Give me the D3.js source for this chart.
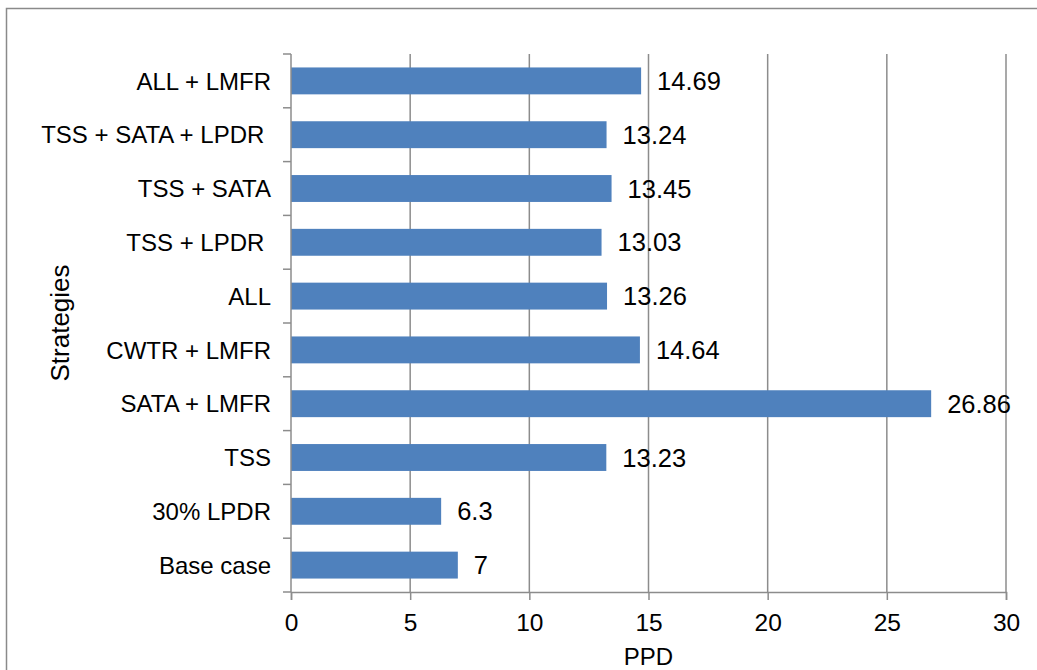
<meta charset="utf-8">
<script src="https://cdnjs.cloudflare.com/ajax/libs/d3/7.8.5/d3.min.js"></script>
<style>
  body { margin: 0; background: #fff; }
  text { font-family: "Liberation Sans", Arial, sans-serif; fill: #000; }
</style>
<div id="chart"></div>
<script>
// categories top to bottom, as in the picture
var strategies = ["ALL + LMFR", "TSS + SATA + LPDR ", "TSS + SATA", "TSS + LPDR ", "ALL",
                  "CWTR + LMFR", "SATA + LMFR", "TSS", "30% LPDR", "Base case"];
var ppd = [14.69, 13.24, 13.45, 13.03, 13.26, 14.64, 26.86, 13.23, 6.3, 7];
var xTicks = [0, 5, 10, 15, 20, 25, 30];

var W = 1037, H = 670;
var plotL = 291, plotR = 1006, plotT = 54, plotB = 592;

var svg = d3.select("#chart").append("svg")
    .attr("width", W)
    .attr("height", H);

// outer frame (runs off the right and bottom edges)
svg.append("rect")
    .attr("x", 6.5).attr("y", 8.5)
    .attr("width", W + 20).attr("height", H + 20)
    .attr("fill", "none")
    .attr("stroke", "#8a8a8a")
    .attr("stroke-width", 1.5);

var x = d3.scaleLinear().domain([0, 30]).range([plotL, plotR]);
var y = d3.scaleBand().domain(strategies).range([plotT, plotB]).paddingInner(0.5).paddingOuter(0.25);

// vertical gridlines
svg.selectAll(".grid")
    .data(xTicks.slice(1))
    .enter().append("line")
    .attr("x1", function(d) { return x(d); })
    .attr("x2", function(d) { return x(d); })
    .attr("y1", plotT).attr("y2", plotB)
    .attr("stroke", "#8c8c8c")
    .attr("stroke-width", 1.5);

// bars
svg.selectAll(".bar")
    .data(ppd)
    .enter().append("rect")
    .attr("x", x(0))
    .attr("y", function(d, i) { return y(strategies[i]); })
    .attr("width", function(d) { return x(d) - x(0); })
    .attr("height", y.bandwidth())
    .attr("fill", "#4f81bd");

// value labels
svg.selectAll(".val")
    .data(ppd)
    .enter().append("text")
    .attr("x", function(d) { return x(d) + 16; })
    .attr("y", function(d, i) { return y(strategies[i]) + y.bandwidth() / 2; })
    .attr("dy", "0.36em")
    .style("font-size", "25.5px")
    .text(function(d) { return d; });

// x axis
var xAxis = svg.append("g")
    .attr("transform", "translate(0," + plotB + ")")
    .call(d3.axisBottom(x).tickValues(xTicks).tickSize(8).tickPadding(14));
xAxis.select(".domain").attr("stroke", "#8c8c8c").attr("stroke-width", 1.5);
xAxis.selectAll(".tick line").attr("stroke", "#8c8c8c").attr("stroke-width", 1.5);
xAxis.selectAll(".tick text").style("font-size", "24.5px").attr("fill", "#000");

// y axis: ticks sit on band boundaries, labels centred in bands
var step = (plotB - plotT) / strategies.length;
var yAxis = svg.append("g");
yAxis.append("line")
    .attr("x1", plotL).attr("x2", plotL)
    .attr("y1", plotT).attr("y2", plotB)
    .attr("stroke", "#8c8c8c").attr("stroke-width", 1.5);
yAxis.selectAll(".tk")
    .data(d3.range(strategies.length + 1))
    .enter().append("line")
    .attr("x1", plotL - 8).attr("x2", plotL)
    .attr("y1", function(i) { return plotT + i * step; })
    .attr("y2", function(i) { return plotT + i * step; })
    .attr("stroke", "#8c8c8c").attr("stroke-width", 1.5);
yAxis.selectAll(".lbl")
    .data(strategies)
    .enter().append("text")
    .attr("x", 271)
    .attr("y", function(d) { return y(d) + y.bandwidth() / 2; })
    .attr("dy", "0.36em")
    .attr("text-anchor", "end")
    .style("font-size", "24px")
    .style("white-space", "pre")
    .text(function(d) { return d; });

// axis titles
svg.append("text")
    .attr("x", (plotL + plotR) / 2)
    .attr("y", 665)
    .attr("text-anchor", "middle")
    .style("font-size", "24px")
    .text("PPD");

svg.append("text")
    .attr("transform", "translate(69," + (plotT + plotB) / 2 + ") rotate(-90)")
    .attr("text-anchor", "middle")
    .style("font-size", "26px")
    .text("Strategies");
</script>
